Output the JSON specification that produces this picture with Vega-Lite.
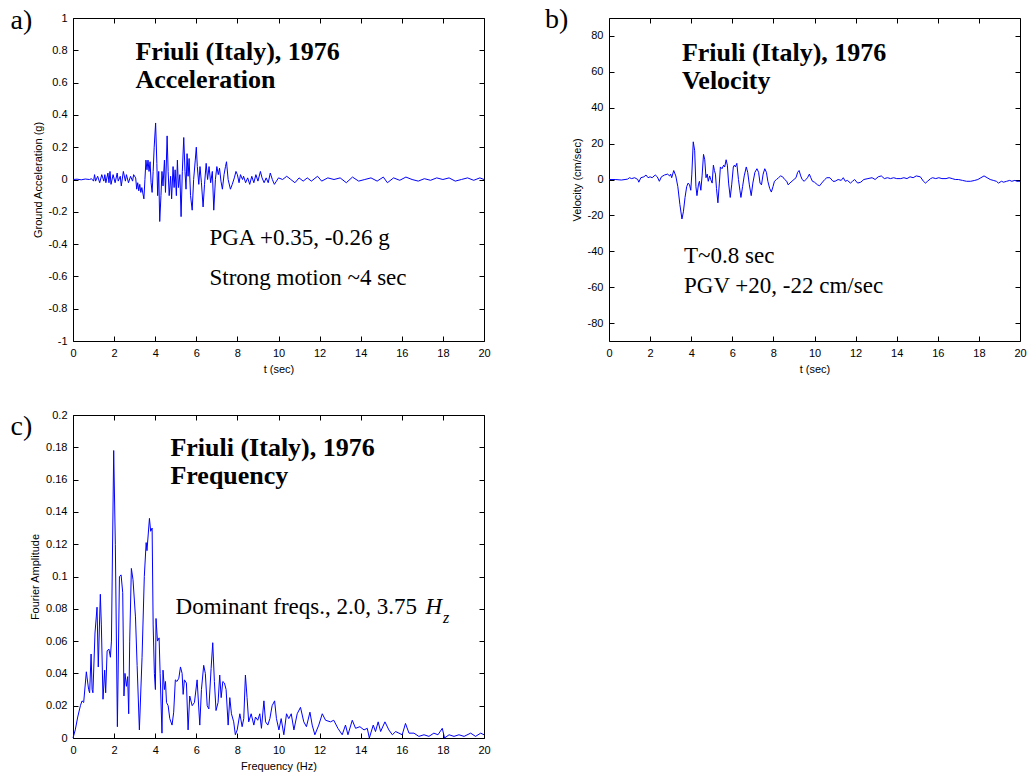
{
  "$schema": "https://vega.github.io/schema/vega-lite/v6.json",
  "background": "white",
  "padding": {"left": 10, "top": 5, "right": 5, "bottom": 5},
  "config": {
    "view": {"stroke": "black", "strokeWidth": 1},
    "axis": {
      "domain": false, "grid": false, "ticks": true, "tickSize": -5, "tickColor": "black", "tickWidth": 1,
      "labelFont": "Liberation Sans", "labelFontSize": 11, "labelColor": "black", "labelPadding": 11,
      "labelFlush": false, "labelOverlap": false, "labelExpr": "'' + datum.value",
      "titleFont": "Liberation Sans", "titleFontSize": 11, "titleFontWeight": "normal", "titleColor": "black", "titlePadding": 5
    },
    "text": {"font": "Liberation Serif", "color": "black", "align": "left", "baseline": "alphabetic"}
  },
  "datasets": {
    "accel": [
      {"t":0,"a":0},{"t":0.2,"a":0.002},{"t":0.4,"a":-0.002},{"t":0.6,"a":0.003},{"t":0.8,"a":0},{"t":0.9,"a":0.005},
      {"t":1.0,"a":-0.01},{"t":1.05,"a":0.03},{"t":1.1,"a":-0.01},{"t":1.2,"a":0.02},{"t":1.3,"a":-0.02},{"t":1.4,"a":0.03},
      {"t":1.5,"a":-0.01},{"t":1.55,"a":0.03},{"t":1.6,"a":-0.02},{"t":1.7,"a":0.04},{"t":1.75,"a":-0.02},{"t":1.8,"a":0.05},
      {"t":1.85,"a":-0.03},{"t":1.95,"a":0.03},{"t":2.05,"a":-0.02},{"t":2.15,"a":0.04},{"t":2.2,"a":-0.01},{"t":2.3,"a":0.02},
      {"t":2.35,"a":-0.04},{"t":2.45,"a":0.05},{"t":2.55,"a":-0.01},{"t":2.6,"a":0.03},{"t":2.7,"a":-0.02},{"t":2.8,"a":0.02},
      {"t":2.9,"a":-0.01},{"t":2.95,"a":0.03},{"t":3.05,"a":0.01},{"t":3.1,"a":-0.06},{"t":3.15,"a":-0.02},{"t":3.2,"a":-0.07},
      {"t":3.25,"a":-0.03},{"t":3.3,"a":-0.08},{"t":3.35,"a":-0.05},{"t":3.45,"a":-0.12},{"t":3.5,"a":0.0},{"t":3.55,"a":0.12},
      {"t":3.6,"a":0.06},{"t":3.65,"a":0.12},{"t":3.7,"a":0.05},{"t":3.75,"a":0.11},{"t":3.8,"a":-0.02},{"t":3.85,"a":-0.08},
      {"t":3.9,"a":0.05},{"t":3.95,"a":0.2},{"t":4.02,"a":0.35},{"t":4.08,"a":0.1},{"t":4.12,"a":-0.1},{"t":4.17,"a":0.05},
      {"t":4.22,"a":-0.26},{"t":4.28,"a":-0.1},{"t":4.33,"a":0.05},{"t":4.38,"a":-0.04},{"t":4.45,"a":0.12},{"t":4.5,"a":-0.08},
      {"t":4.58,"a":0.27},{"t":4.63,"a":0.05},{"t":4.68,"a":-0.1},{"t":4.75,"a":0.02},{"t":4.8,"a":-0.12},{"t":4.87,"a":0.08},
      {"t":4.92,"a":-0.05},{"t":4.97,"a":0.06},{"t":5.03,"a":-0.1},{"t":5.08,"a":0.12},{"t":5.13,"a":-0.05},{"t":5.2,"a":0.03},
      {"t":5.26,"a":-0.23},{"t":5.32,"a":0.05},{"t":5.39,"a":0.26},{"t":5.45,"a":0.05},{"t":5.5,"a":-0.06},{"t":5.55,"a":0.16},
      {"t":5.6,"a":0.02},{"t":5.65,"a":0.13},{"t":5.72,"a":-0.1},{"t":5.8,"a":-0.19},{"t":5.87,"a":0.0},{"t":5.95,"a":0.12},
      {"t":6.0,"a":0.2},{"t":6.05,"a":0.08},{"t":6.12,"a":-0.03},{"t":6.18,"a":0.08},{"t":6.25,"a":-0.02},{"t":6.33,"a":-0.17},
      {"t":6.4,"a":-0.03},{"t":6.48,"a":0.1},{"t":6.55,"a":0.0},{"t":6.62,"a":0.08},{"t":6.7,"a":-0.02},{"t":6.78,"a":0.05},
      {"t":6.85,"a":-0.19},{"t":6.93,"a":0.0},{"t":7.0,"a":0.08},{"t":7.07,"a":0.03},{"t":7.13,"a":0.07},{"t":7.2,"a":-0.01},
      {"t":7.27,"a":-0.06},{"t":7.35,"a":0.03},{"t":7.42,"a":0.08},{"t":7.47,"a":0.11},{"t":7.55,"a":0.0},{"t":7.66,"a":-0.06},
      {"t":7.75,"a":-0.03},{"t":7.85,"a":0.01},{"t":7.93,"a":0.05},{"t":8.0,"a":0.03},{"t":8.08,"a":-0.02},{"t":8.15,"a":0.03},
      {"t":8.25,"a":0.0},{"t":8.3,"a":0.02},{"t":8.4,"a":-0.02},{"t":8.5,"a":0.01},{"t":8.6,"a":-0.03},{"t":8.7,"a":0.02},
      {"t":8.8,"a":-0.02},{"t":8.9,"a":0.03},{"t":9.0,"a":-0.01},{"t":9.12,"a":0.05},{"t":9.2,"a":0.01},{"t":9.3,"a":-0.02},
      {"t":9.4,"a":0.01},{"t":9.5,"a":-0.02},{"t":9.6,"a":0.04},{"t":9.7,"a":0.0},{"t":9.8,"a":-0.03},{"t":9.9,"a":-0.01},
      {"t":10.0,"a":0.01},{"t":10.2,"a":0.0},{"t":10.4,"a":0.02},{"t":10.6,"a":0.0},{"t":10.8,"a":-0.02},{"t":11.0,"a":0.01},
      {"t":11.2,"a":-0.01},{"t":11.4,"a":0.01},{"t":11.6,"a":-0.01},{"t":11.9,"a":0.02},{"t":12.1,"a":-0.01},{"t":12.4,"a":0.01},
      {"t":12.7,"a":0.0},{"t":13.0,"a":0.01},{"t":13.3,"a":-0.02},{"t":13.6,"a":0.015},{"t":13.9,"a":-0.01},{"t":14.2,"a":0.0},
      {"t":14.5,"a":0.01},{"t":14.8,"a":-0.01},{"t":15.1,"a":0.015},{"t":15.3,"a":-0.02},{"t":15.6,"a":0.01},{"t":15.9,"a":-0.005},
      {"t":16.2,"a":0.015},{"t":16.5,"a":0.0},{"t":16.8,"a":-0.01},{"t":17.1,"a":0.005},{"t":17.4,"a":-0.005},{"t":17.7,"a":0.01},
      {"t":18.0,"a":0.0},{"t":18.3,"a":0.01},{"t":18.6,"a":-0.01},{"t":18.9,"a":0.0},{"t":19.2,"a":0.01},{"t":19.5,"a":-0.005},
      {"t":19.8,"a":0.01},{"t":20,"a":0}
    ],
    "vel": [
      {"t":0,"v":0},{"t":0.3,"v":0},{"t":0.6,"v":-0.3},{"t":0.9,"v":0.2},{"t":1.0,"v":1},{"t":1.1,"v":0.5},{"t":1.25,"v":1},
      {"t":1.4,"v":0},{"t":1.45,"v":-1.5},{"t":1.55,"v":1},{"t":1.7,"v":1.5},{"t":1.8,"v":2.5},{"t":1.9,"v":1},{"t":2.0,"v":1.5},
      {"t":2.1,"v":1},{"t":2.25,"v":2.5},{"t":2.35,"v":1.5},{"t":2.45,"v":-1},{"t":2.55,"v":1.5},{"t":2.7,"v":2.5},{"t":2.85,"v":3},
      {"t":2.95,"v":2},{"t":3.0,"v":3},{"t":3.05,"v":1},{"t":3.15,"v":5},{"t":3.25,"v":2},{"t":3.35,"v":-4},{"t":3.45,"v":-14},
      {"t":3.55,"v":-22},{"t":3.62,"v":-18},{"t":3.7,"v":-10},{"t":3.78,"v":-4},{"t":3.85,"v":-2},{"t":3.92,"v":-3},{"t":3.98,"v":-6},
      {"t":4.03,"v":3},{"t":4.1,"v":21},{"t":4.17,"v":16},{"t":4.23,"v":-4},{"t":4.28,"v":-9},{"t":4.35,"v":-3},{"t":4.4,"v":-1},
      {"t":4.47,"v":-6},{"t":4.53,"v":2},{"t":4.6,"v":14},{"t":4.66,"v":11},{"t":4.72,"v":1},{"t":4.78,"v":3},{"t":4.83,"v":-1},
      {"t":4.9,"v":2},{"t":4.95,"v":0},{"t":5.02,"v":-2},{"t":5.08,"v":8},{"t":5.13,"v":5},{"t":5.18,"v":3},{"t":5.23,"v":-5},
      {"t":5.3,"v":-13},{"t":5.37,"v":-2},{"t":5.42,"v":7},{"t":5.5,"v":6},{"t":5.58,"v":8},{"t":5.63,"v":7},{"t":5.7,"v":11},
      {"t":5.76,"v":8},{"t":5.82,"v":-2},{"t":5.9,"v":-10},{"t":5.97,"v":-3},{"t":6.05,"v":7},{"t":6.1,"v":8},{"t":6.15,"v":7},
      {"t":6.22,"v":9},{"t":6.3,"v":0},{"t":6.37,"v":-6},{"t":6.42,"v":-10},{"t":6.5,"v":-4},{"t":6.58,"v":2},{"t":6.68,"v":7},
      {"t":6.75,"v":4},{"t":6.83,"v":-3},{"t":6.92,"v":-9},{"t":7.0,"v":-2},{"t":7.1,"v":4},{"t":7.2,"v":6},{"t":7.28,"v":4},
      {"t":7.35,"v":-2},{"t":7.42,"v":-3},{"t":7.5,"v":3},{"t":7.58,"v":6},{"t":7.66,"v":4},{"t":7.73,"v":-1},{"t":7.82,"v":-5},
      {"t":7.9,"v":-7},{"t":7.98,"v":-4},{"t":8.05,"v":-1},{"t":8.15,"v":0},{"t":8.25,"v":1},{"t":8.35,"v":2},{"t":8.45,"v":1.5},
      {"t":8.55,"v":0},{"t":8.65,"v":-1},{"t":8.72,"v":-3},{"t":8.8,"v":-2},{"t":8.9,"v":-1},{"t":9.0,"v":0},{"t":9.1,"v":1},
      {"t":9.18,"v":4},{"t":9.25,"v":5},{"t":9.33,"v":2},{"t":9.4,"v":0},{"t":9.5,"v":-1},{"t":9.58,"v":0},{"t":9.66,"v":1},
      {"t":9.75,"v":3},{"t":9.82,"v":1},{"t":9.9,"v":-1},{"t":10.0,"v":-1.5},{"t":10.15,"v":-3},{"t":10.25,"v":-3.5},{"t":10.35,"v":-2},
      {"t":10.5,"v":0},{"t":10.6,"v":1},{"t":10.75,"v":1},{"t":10.9,"v":-1},{"t":11.0,"v":-1},{"t":11.15,"v":0},{"t":11.3,"v":-0.5},
      {"t":11.4,"v":1},{"t":11.5,"v":-1},{"t":11.6,"v":-0.5},{"t":11.75,"v":-2},{"t":11.85,"v":-1},{"t":11.95,"v":0},{"t":12.1,"v":-2},
      {"t":12.25,"v":-1.5},{"t":12.4,"v":0},{"t":12.6,"v":0.5},{"t":12.8,"v":1},{"t":12.95,"v":0},{"t":13.1,"v":1.5},{"t":13.25,"v":2},
      {"t":13.4,"v":0.5},{"t":13.55,"v":1},{"t":13.7,"v":0.5},{"t":13.85,"v":1},{"t":14.0,"v":0.5},{"t":14.2,"v":0.5},{"t":14.35,"v":1},
      {"t":14.5,"v":0.5},{"t":14.65,"v":1.5},{"t":14.8,"v":1},{"t":14.95,"v":2},{"t":15.15,"v":1.5},{"t":15.3,"v":-1},{"t":15.4,"v":-2},
      {"t":15.5,"v":-1},{"t":15.65,"v":0.5},{"t":15.75,"v":1},{"t":15.9,"v":0.5},{"t":16.05,"v":1},{"t":16.2,"v":0.5},{"t":16.4,"v":0.5},
      {"t":16.55,"v":1},{"t":16.7,"v":0.5},{"t":16.85,"v":0},{"t":17.0,"v":0},{"t":17.2,"v":-0.5},{"t":17.4,"v":-1},{"t":17.6,"v":-1},
      {"t":17.8,"v":-0.5},{"t":17.95,"v":0},{"t":18.1,"v":1},{"t":18.25,"v":2},{"t":18.4,"v":1},{"t":18.55,"v":0},{"t":18.7,"v":-0.5},
      {"t":18.85,"v":-1},{"t":18.95,"v":-2},{"t":19.1,"v":-1},{"t":19.2,"v":-1.5},{"t":19.35,"v":-1},{"t":19.5,"v":-0.5},{"t":19.6,"v":-1},
      {"t":19.75,"v":-0.5},{"t":19.85,"v":-1},{"t":20,"v":-1}
    ],
    "fourier": [
      {"f":0,"amp":0},{"f":0.11,"amp":0.005},{"f":0.23,"amp":0.013},{"f":0.36,"amp":0.02},{"f":0.44,"amp":0.023},{"f":0.52,"amp":0.022},
      {"f":0.65,"amp":0.041},{"f":0.76,"amp":0.03},{"f":0.81,"amp":0.028},{"f":0.88,"amp":0.052},{"f":0.93,"amp":0.03},{"f":0.97,"amp":0.028},
      {"f":1.07,"amp":0.065},{"f":1.17,"amp":0.081},{"f":1.23,"amp":0.044},{"f":1.33,"amp":0.089},{"f":1.38,"amp":0.07},{"f":1.46,"amp":0.024},
      {"f":1.54,"amp":0.042},{"f":1.59,"amp":0.028},{"f":1.66,"amp":0.054},{"f":1.75,"amp":0.055},{"f":1.82,"amp":0.05},{"f":1.87,"amp":0.06},
      {"f":1.98,"amp":0.178},{"f":2.06,"amp":0.12},{"f":2.16,"amp":0.007},{"f":2.26,"amp":0.1},{"f":2.34,"amp":0.101},{"f":2.42,"amp":0.09},
      {"f":2.48,"amp":0.026},{"f":2.53,"amp":0.04},{"f":2.6,"amp":0.032},{"f":2.66,"amp":0.038},{"f":2.71,"amp":0.015},{"f":2.76,"amp":0.06},
      {"f":2.84,"amp":0.105},{"f":2.92,"amp":0.098},{"f":3.04,"amp":0.075},{"f":3.12,"amp":0.045},{"f":3.23,"amp":0.005},{"f":3.36,"amp":0.05},
      {"f":3.47,"amp":0.1},{"f":3.56,"amp":0.121},{"f":3.6,"amp":0.116},{"f":3.72,"amp":0.136},{"f":3.78,"amp":0.128},{"f":3.85,"amp":0.13},
      {"f":3.9,"amp":0.07},{"f":3.96,"amp":0.04},{"f":4.01,"amp":0.03},{"f":4.04,"amp":0.074},{"f":4.11,"amp":0.06},{"f":4.19,"amp":0.062},
      {"f":4.24,"amp":0.04},{"f":4.33,"amp":0.003},{"f":4.38,"amp":0.042},{"f":4.45,"amp":0.03},{"f":4.5,"amp":0.035},{"f":4.55,"amp":0.022},
      {"f":4.63,"amp":0.02},{"f":4.71,"amp":0.012},{"f":4.82,"amp":0.008},{"f":4.9,"amp":0.016},{"f":4.98,"amp":0.036},{"f":5.06,"amp":0.035},
      {"f":5.15,"amp":0.037},{"f":5.23,"amp":0.044},{"f":5.31,"amp":0.04},{"f":5.36,"amp":0.027},{"f":5.42,"amp":0.036},{"f":5.52,"amp":0.034},
      {"f":5.6,"amp":0.005},{"f":5.68,"amp":0.026},{"f":5.8,"amp":0.02},{"f":5.91,"amp":0.022},{"f":6.04,"amp":0.036},{"f":6.17,"amp":0.008},
      {"f":6.25,"amp":0.03},{"f":6.36,"amp":0.045},{"f":6.44,"amp":0.04},{"f":6.53,"amp":0.02},{"f":6.61,"amp":0.018},{"f":6.72,"amp":0.043},
      {"f":6.8,"amp":0.059},{"f":6.88,"amp":0.035},{"f":6.96,"amp":0.017},{"f":7.06,"amp":0.022},{"f":7.14,"amp":0.039},{"f":7.21,"amp":0.025},
      {"f":7.29,"amp":0.035},{"f":7.37,"amp":0.034},{"f":7.45,"amp":0.03},{"f":7.55,"amp":0.008},{"f":7.63,"amp":0.025},{"f":7.71,"amp":0.015},
      {"f":7.82,"amp":0.01},{"f":7.9,"amp":0.002},{"f":7.99,"amp":0.005},{"f":8.12,"amp":0.015},{"f":8.23,"amp":0.007},{"f":8.31,"amp":0.012},
      {"f":8.39,"amp":0.039},{"f":8.47,"amp":0.025},{"f":8.55,"amp":0.01},{"f":8.67,"amp":0.015},{"f":8.8,"amp":0.008},{"f":8.88,"amp":0.013},
      {"f":8.99,"amp":0.011},{"f":9.09,"amp":0.015},{"f":9.17,"amp":0.006},{"f":9.29,"amp":0.023},{"f":9.37,"amp":0.01},{"f":9.48,"amp":0.008},
      {"f":9.58,"amp":0.012},{"f":9.69,"amp":0.02},{"f":9.81,"amp":0.023},{"f":9.9,"amp":0.012},{"f":10.02,"amp":0.005},{"f":10.13,"amp":0.012},
      {"f":10.26,"amp":0.002},{"f":10.39,"amp":0.015},{"f":10.5,"amp":0.012},{"f":10.62,"amp":0.015},{"f":10.75,"amp":0.005},{"f":10.91,"amp":0.015},
      {"f":11.07,"amp":0.019},{"f":11.23,"amp":0.01},{"f":11.36,"amp":0.007},{"f":11.53,"amp":0.016},{"f":11.64,"amp":0.008},{"f":11.77,"amp":0.002},
      {"f":11.96,"amp":0.008},{"f":12.13,"amp":0.015},{"f":12.29,"amp":0.011},{"f":12.53,"amp":0.01},{"f":12.69,"amp":0.011},{"f":12.89,"amp":0.006},
      {"f":13.1,"amp":0.002},{"f":13.26,"amp":0.008},{"f":13.38,"amp":0.002},{"f":13.59,"amp":0.011},{"f":13.75,"amp":0.006},{"f":13.96,"amp":0.007},
      {"f":14.16,"amp":0.005},{"f":14.32,"amp":0.006},{"f":14.42,"amp":0.0},{"f":14.61,"amp":0.008},{"f":14.72,"amp":0.004},{"f":14.85,"amp":0.01},
      {"f":14.97,"amp":0.004},{"f":15.18,"amp":0.01},{"f":15.37,"amp":0.005},{"f":15.54,"amp":0.002},{"f":15.7,"amp":0.004},{"f":15.86,"amp":0.003},
      {"f":16.02,"amp":0.002},{"f":16.18,"amp":0.009},{"f":16.35,"amp":0.003},{"f":16.59,"amp":0.003},{"f":16.83,"amp":0.001},{"f":17.08,"amp":0.002},
      {"f":17.32,"amp":0.001},{"f":17.56,"amp":0.003},{"f":17.76,"amp":0.002},{"f":17.97,"amp":0.006},{"f":18.08,"amp":0.0},{"f":18.3,"amp":0.002},
      {"f":18.54,"amp":0.001},{"f":18.78,"amp":0.002},{"f":19.03,"amp":0.001},{"f":19.35,"amp":0.003},{"f":19.59,"amp":0.001},{"f":19.84,"amp":0.003},
      {"f":20,"amp":0.002}
    ]
  },
  "spacing": 33,
  "vconcat": [
    {
      "spacing": 53,
      "hconcat": [
        {
          "width": 411, "height": 323,
          "layer": [
            {
              "data": {"name": "accel"},
              "mark": {"type": "line", "color": "#0000ff", "strokeWidth": 1},
              "encoding": {
                "x": {"field": "t", "type": "quantitative", "scale": {"domain": [0, 20]},
                      "axis": {"values": [0,2,4,6,8,10,12,14,16,18,20], "title": "t (sec)"}},
                "y": {"field": "a", "type": "quantitative", "scale": {"domain": [-1, 1]},
                      "axis": {"values": [-1,-0.8,-0.6,-0.4,-0.2,0,0.2,0.4,0.6,0.8,1], "title": "Ground Acceleration (g)"}}
              }
            },
            {
              "data": {"name": "accel"},
              "mark": {"type": "line", "opacity": 0},
              "encoding": {
                "x": {"field": "t", "type": "quantitative", "scale": {"domain": [0, 20]},
                      "axis": {"orient": "top", "values": [0,2,4,6,8,10,12,14,16,18,20], "labels": false, "title": null}},
                "y": {"field": "a", "type": "quantitative", "scale": {"domain": [-1, 1]},
                      "axis": {"orient": "right", "values": [-1,-0.8,-0.6,-0.4,-0.2,0,0.2,0.4,0.6,0.8,1], "labels": false, "title": null}}
              }
            },
            {
              "data": {"values": [{}]},
              "mark": {"type": "text", "fontSize": 28},
              "encoding": {
                "x": {"datum": -3.04, "type": "quantitative", "scale": {"domain": [0, 20]}, "axis": null},
                "y": {"datum": 0.932, "type": "quantitative", "scale": {"domain": [-1, 1]}, "axis": null},
                "text": {"value": "a)"}
              }
            },
            {
              "data": {"values": [{}]},
              "mark": {"type": "text", "fontSize": 26, "fontWeight": "bold", "lineHeight": 28},
              "encoding": {
                "x": {"datum": 3.04, "type": "quantitative", "scale": {"domain": [0, 20]}, "axis": null},
                "y": {"datum": 0.737, "type": "quantitative", "scale": {"domain": [-1, 1]}, "axis": null},
                "text": {"value": ["Friuli (Italy), 1976", "Acceleration"]}
              }
            },
            {
              "data": {"values": [{}]},
              "mark": {"type": "text", "fontSize": 23, "lineHeight": 40},
              "encoding": {
                "x": {"datum": 6.64, "type": "quantitative", "scale": {"domain": [0, 20]}, "axis": null},
                "y": {"datum": -0.406, "type": "quantitative", "scale": {"domain": [-1, 1]}, "axis": null},
                "text": {"value": ["PGA +0.35, -0.26 g", "Strong motion ~4 sec"]}
              }
            }
          ],
          "resolve": {"axis": {"x": "independent", "y": "independent"}}
        },
        {
          "width": 411, "height": 323,
          "layer": [
            {
              "data": {"name": "vel"},
              "mark": {"type": "line", "color": "#0000ff", "strokeWidth": 1},
              "encoding": {
                "x": {"field": "t", "type": "quantitative", "scale": {"domain": [0, 20]},
                      "axis": {"values": [0,2,4,6,8,10,12,14,16,18,20], "title": "t (sec)"}},
                "y": {"field": "v", "type": "quantitative", "scale": {"domain": [-90, 90]},
                      "axis": {"values": [-80,-60,-40,-20,0,20,40,60,80], "title": "Velocity (cm/sec)"}}
              }
            },
            {
              "data": {"name": "vel"},
              "mark": {"type": "line", "opacity": 0},
              "encoding": {
                "x": {"field": "t", "type": "quantitative", "scale": {"domain": [0, 20]},
                      "axis": {"orient": "top", "values": [0,2,4,6,8,10,12,14,16,18,20], "labels": false, "title": null}},
                "y": {"field": "v", "type": "quantitative", "scale": {"domain": [-90, 90]},
                      "axis": {"orient": "right", "values": [-80,-60,-40,-20,0,20,40,60,80], "labels": false, "title": null}}
              }
            },
            {
              "data": {"values": [{}]},
              "mark": {"type": "text", "fontSize": 28},
              "encoding": {
                "x": {"datum": -3.11, "type": "quantitative", "scale": {"domain": [0, 20]}, "axis": null},
                "y": {"datum": 84.2, "type": "quantitative", "scale": {"domain": [-90, 90]}, "axis": null},
                "text": {"value": "b)"}
              }
            },
            {
              "data": {"values": [{}]},
              "mark": {"type": "text", "fontSize": 26, "fontWeight": "bold", "lineHeight": 28},
              "encoding": {
                "x": {"datum": 3.55, "type": "quantitative", "scale": {"domain": [0, 20]}, "axis": null},
                "y": {"datum": 66.3, "type": "quantitative", "scale": {"domain": [-90, 90]}, "axis": null},
                "text": {"value": ["Friuli (Italy), 1976", "Velocity"]}
              }
            },
            {
              "data": {"values": [{}]},
              "mark": {"type": "text", "fontSize": 23, "lineHeight": 30},
              "encoding": {
                "x": {"datum": 3.65, "type": "quantitative", "scale": {"domain": [0, 20]}, "axis": null},
                "y": {"datum": -46.3, "type": "quantitative", "scale": {"domain": [-90, 90]}, "axis": null},
                "text": {"value": ["T~0.8 sec", "PGV +20, -22 cm/sec"]}
              }
            }
          ],
          "resolve": {"axis": {"x": "independent", "y": "independent"}}
        }
      ]
    },
    {
      "width": 411, "height": 323,
      "layer": [
        {
          "data": {"name": "fourier"},
          "mark": {"type": "line", "color": "#0000ff", "strokeWidth": 1},
          "encoding": {
            "x": {"field": "f", "type": "quantitative", "scale": {"domain": [0, 20]},
                  "axis": {"values": [0,2,4,6,8,10,12,14,16,18,20], "title": "Frequency (Hz)"}},
            "y": {"field": "amp", "type": "quantitative", "scale": {"domain": [0, 0.2]},
                  "axis": {"values": [0,0.02,0.04,0.06,0.08,0.1,0.12,0.14,0.16,0.18,0.2], "title": "Fourier Amplitude"}}
          }
        },
        {
          "data": {"name": "fourier"},
          "mark": {"type": "line", "opacity": 0},
          "encoding": {
            "x": {"field": "f", "type": "quantitative", "scale": {"domain": [0, 20]},
                  "axis": {"orient": "top", "values": [0,2,4,6,8,10,12,14,16,18,20], "labels": false, "title": null}},
            "y": {"field": "amp", "type": "quantitative", "scale": {"domain": [0, 0.2]},
                  "axis": {"orient": "right", "values": [0,0.02,0.04,0.06,0.08,0.1,0.12,0.14,0.16,0.18,0.2], "labels": false, "title": null}}
          }
        },
        {
          "data": {"values": [{}]},
          "mark": {"type": "text", "fontSize": 28},
          "encoding": {
            "x": {"datum": -3.04, "type": "quantitative", "scale": {"domain": [0, 20]}, "axis": null},
            "y": {"datum": 0.1876, "type": "quantitative", "scale": {"domain": [0, 0.2]}, "axis": null},
            "text": {"value": "c)"}
          }
        },
        {
          "data": {"values": [{}]},
          "mark": {"type": "text", "fontSize": 26, "fontWeight": "bold", "lineHeight": 28},
          "encoding": {
            "x": {"datum": 4.74, "type": "quantitative", "scale": {"domain": [0, 20]}, "axis": null},
            "y": {"datum": 0.1746, "type": "quantitative", "scale": {"domain": [0, 0.2]}, "axis": null},
            "text": {"value": ["Friuli (Italy), 1976", "Frequency"]}
          }
        },
        {
          "data": {"values": [{}]},
          "mark": {"type": "text", "fontSize": 23},
          "encoding": {
            "x": {"datum": 4.99, "type": "quantitative", "scale": {"domain": [0, 20]}, "axis": null},
            "y": {"datum": 0.0768, "type": "quantitative", "scale": {"domain": [0, 0.2]}, "axis": null},
            "text": {"value": "Dominant freqs., 2.0, 3.75"}
          }
        },
        {
          "data": {"values": [{}]},
          "mark": {"type": "text", "fontSize": 23, "fontStyle": "italic"},
          "encoding": {
            "x": {"datum": 17.15, "type": "quantitative", "scale": {"domain": [0, 20]}, "axis": null},
            "y": {"datum": 0.0768, "type": "quantitative", "scale": {"domain": [0, 0.2]}, "axis": null},
            "text": {"value": "H"}
          }
        },
        {
          "data": {"values": [{}]},
          "mark": {"type": "text", "fontSize": 16, "fontStyle": "italic"},
          "encoding": {
            "x": {"datum": 18.0, "type": "quantitative", "scale": {"domain": [0, 20]}, "axis": null},
            "y": {"datum": 0.0712, "type": "quantitative", "scale": {"domain": [0, 0.2]}, "axis": null},
            "text": {"value": "z"}
          }
        }
      ],
      "resolve": {"axis": {"x": "independent", "y": "independent"}}
    }
  ]
}
